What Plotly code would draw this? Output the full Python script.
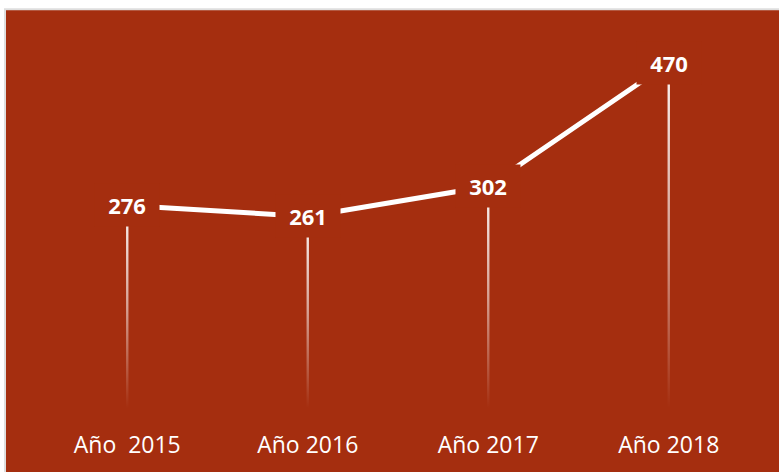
import plotly.graph_objects as go

# Values per year
years = ["Año\u00a0 2015", "Año 2016", "Año 2017", "Año 2018"]
values = [276, 261, 302, 470]

BG = "#A52E0F"
W, H = 779, 472
L, R, T, B = 37, 20, 41, 60
Y_MAX = 500

pos = list(range(len(years)))
pw = W - L - R
ph = H - T - B
half_w = 1.2 / (pw / 4)  # half width of a drop line, in x units

fig = go.Figure()

# Drop lines: thin bars fading from white at the point to clear at zero
for i, v in zip(pos, values):
    fig.add_trace(go.Scatter(
        x=[i - half_w, i + half_w, i + half_w, i - half_w, i - half_w],
        y=[0, 0, v, v, 0],
        mode="none", fill="toself",
        fillgradient=dict(
            type="vertical",
            colorscale=[[0, "rgba(255,255,255,0)"],
                        [0.5, "rgba(255,255,255,0.55)"],
                        [1, "rgba(255,255,255,0.97)"]],
        ),
        hoverinfo="skip", showlegend=False,
    ))

# Main connecting line
fig.add_trace(go.Scatter(
    x=pos, y=values, mode="lines",
    line=dict(color="white", width=5),
    hoverinfo="skip", showlegend=False,
))

# Background panel with a thin light border
shapes = [dict(
    type="rect", xref="paper", yref="paper", layer="below",
    x0=(5 - L) / pw, x1=(W + 30 - L) / pw,
    y0=-(30 + B) / ph, y1=(H - B - 9) / ph,
    fillcolor=BG, line=dict(color="#dedede", width=2),
)]

# Value labels on a box filled with the background colour
annotations = []
for i, v in zip(pos, values):
    annotations.append(dict(
        x=i, y=v, xref="x", yref="y", text=f"<b>{v}</b>",
        showarrow=False, bgcolor=BG, width=62, height=40,
        font=dict(family="Open Sans", size=22, color="white"),
        xanchor="center", yanchor="middle",
    ))

fig.update_layout(
    width=W, height=H,
    margin=dict(l=L, r=R, t=T, b=B, pad=0),
    paper_bgcolor="white",
    plot_bgcolor="rgba(0,0,0,0)",
    shapes=shapes,
    annotations=annotations,
    showlegend=False,
    xaxis=dict(
        range=[-0.5, len(years) - 0.5],
        tickmode="array", tickvals=pos, ticktext=years,
        showgrid=False, zeroline=False, showline=False,
        ticks="outside", ticklen=16, tickcolor="rgba(0,0,0,0)",
        tickfont=dict(family="Open Sans", size=23, color="white"),
        fixedrange=True,
    ),
    yaxis=dict(
        range=[0, Y_MAX], visible=False, showgrid=False, zeroline=False,
        fixedrange=True,
    ),
)

fig.write_html("out.html")
